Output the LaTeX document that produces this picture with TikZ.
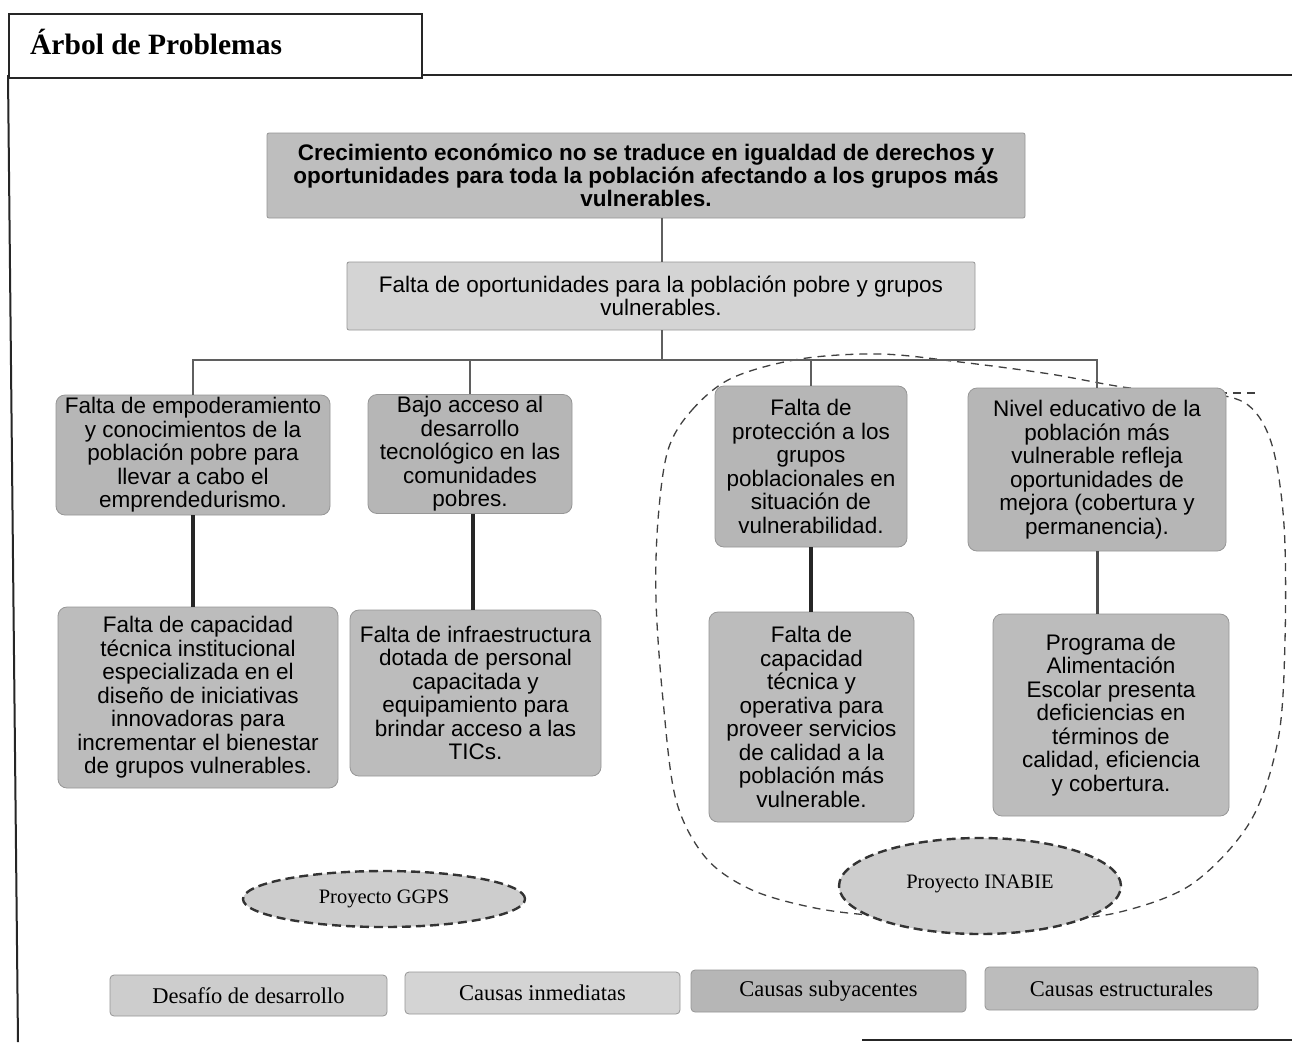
\documentclass[tikz,border=0pt]{standalone}
\usepackage{fontspec}
\setmainfont{Liberation Serif}
\newfontfamily\boxfont{Liberation Sans}
\usetikzlibrary{shapes.geometric}
\definecolor{gTop}{RGB}{190,190,190}
\definecolor{gF}{RGB}{212,212,212}
\definecolor{gMid}{RGB}{182,182,182}
\definecolor{gLow}{RGB}{188,188,188}
\definecolor{gEdge}{RGB}{150,150,150}
\definecolor{gLine}{RGB}{95,95,95}
\definecolor{gEll}{RGB}{205,205,205}
\tikzset{
  pbox/.style={draw=gEdge, line width=0.8pt, fill=gMid, rounded corners=9pt, align=center, inner sep=2pt,
    font=\boxfont\fontsize{22.5}{23.5}\selectfont, text=black},
  sqbox/.style={pbox, rounded corners=2pt},
  legbox/.style={draw=gEdge, line width=0.8pt, rounded corners=4pt, inner sep=0pt,
    font=\fontsize{22.5}{24}\selectfont},
  conn/.style={draw=gLine, line width=2.6pt},
  drop/.style={draw=black!85, line width=3.6pt},
  projell/.style={ellipse, draw=black!80, fill=gEll, line width=2.4pt, dash pattern=on 9pt off 5pt,
    inner sep=0pt, font=\fontsize{20.5}{22}\selectfont},
  region/.style={draw=black!75, line width=1.3pt, dash pattern=on 8pt off 6pt},
  frame/.style={draw=black!85, line width=2pt}
}
\begin{document}
\begin{tikzpicture}[x=1pt,y=-1pt]
\useasboundingbox (0,0) rectangle (1292,1042);
\fill[white] (0,0) rectangle (1292,1042);
% frame
\draw[frame] (8,75) -- (1292,75);
\draw[frame] (8,75) -- (18,1042);
\draw[frame] (862,1040) -- (1292,1040);
\node[draw=black!85, line width=2pt, minimum width=413pt, minimum height=64pt, anchor=north west,
  inner sep=0pt, fill=white] (titlebox) at (8,13) {};
\node[anchor=base west, inner sep=0pt, font=\bfseries\fontsize{29.5}{31}\selectfont] (title) at (30,54) {Árbol de Problemas};

% dashed region (INABIE)
\draw[region] plot[smooth cycle, tension=0.55] coordinates {
 (668,450) (692,410) (732,378) (800,359) (880,354) (960,362) (1050,374) (1130,388) (1205,393)
 (1248,405) (1272,445) (1284,525) (1285,640) (1278,740) (1250,822) (1192,884) (1120,912)
 (1050,920) (970,921) (880,916) (815,908) (752,890) (706,858) (676,800) (663,700) (656,600) (658,520)};
\draw[region] (1205,393) -- (1260,393);

% boxes
\node[sqbox, fill=gTop, font=\boxfont\bfseries\fontsize{22.5}{23.3}\selectfont, minimum width=758pt, minimum height=85pt] (T) at (646,175.5)
 {Crecimiento económico no se traduce en igualdad de derechos y\\oportunidades para toda la población afectando a los grupos más\\vulnerables.};
\node[sqbox, fill=gF, minimum width=628pt, minimum height=68pt] (F) at (661,296)
 {Falta de oportunidades para la población pobre y grupos\\vulnerables.};

\node[pbox, minimum width=274pt, minimum height=120pt] (A) at (193,455)
 {Falta de empoderamiento\\y conocimientos de la\\población pobre para\\llevar a cabo el\\emprendedurismo.};
\node[pbox, minimum width=204pt, minimum height=110pt] (B) at (470,454)
 {Bajo acceso al\\desarrollo\\tecnológico en las\\comunidades\\pobres.};
\node[pbox, minimum width=192pt, minimum height=161pt] (C) at (811,466.5)
 {Falta de\\protección a los\\grupos\\poblacionales en\\situación de\\vulnerabilidad.};
\node[pbox, minimum width=258pt, minimum height=163pt] (D) at (1097,469.5)
 {Nivel educativo de la\\población más\\vulnerable refleja\\oportunidades de\\mejora (cobertura y\\permanencia).};

\node[pbox, fill=gLow, minimum width=280pt, minimum height=181pt] (A2) at (198,697.5)
 {Falta de capacidad\\técnica institucional\\especializada en el\\diseño de iniciativas\\innovadoras para\\incrementar el bienestar\\de grupos vulnerables.};
\node[pbox, fill=gLow, minimum width=251pt, minimum height=166pt] (B2) at (475.5,693)
 {Falta de infraestructura\\dotada de personal\\capacitada y\\equipamiento para\\brindar acceso a las\\TICs.};
\node[pbox, fill=gLow, minimum width=205pt, minimum height=210pt] (C2) at (811.5,717)
 {Falta de\\capacidad\\técnica y\\operativa para\\proveer servicios\\de calidad a la\\población más\\vulnerable.};
\node[pbox, fill=gLow, minimum width=236pt, minimum height=202pt] (D2) at (1111,715)
 {Programa de\\Alimentación\\Escolar presenta\\deficiencias en\\términos de\\calidad, eficiencia\\y cobertura.};

% connectors
\coordinate (bus) at (662,360);
\draw[conn, line width=2pt] (T.south -| bus) -- (F.north -| bus);
\draw[conn] (F.south -| bus) -- (bus);
\draw[conn] (bus) -| (A.north);
\draw[conn] (bus) -| (B.north);
\draw[conn] (bus) -| (C.north);
\draw[conn] (bus) -| (D.north);
\draw[drop] (A.south) -- (A.south |- A2.north);
\draw[drop] ([xshift=3pt]B.south) -- ([xshift=3pt]B.south |- B2.north);
\draw[drop] (C.south) -- (C.south |- C2.north);
\draw[drop, line width=3pt, draw=black!70] (D.south) -- (D.south |- D2.north);

% project ellipses
\node[projell, minimum width=282pt, minimum height=56pt] (ggps) at (384,899) {Proyecto GGPS};
\node[projell, minimum width=282pt, minimum height=96pt] (inabie) at (980,886) {\raisebox{8pt}{Proyecto INABIE}};

% legend
\node[legbox, fill=gEll, minimum width=277pt, minimum height=41pt] (L1) at (248.5,995.5) {Desafío de desarrollo};
\node[legbox, fill=gF, minimum width=275pt, minimum height=42pt] (L2) at (542.5,993) {Causas inmediatas};
\node[legbox, fill=gMid, minimum width=275pt, minimum height=42pt] (L3) at (828.5,991) {Causas subyacentes};
\node[legbox, fill=gLow, minimum width=273pt, minimum height=43pt] (L4) at (1121.5,988.5) {Causas estructurales};
\end{tikzpicture}
\end{document}
